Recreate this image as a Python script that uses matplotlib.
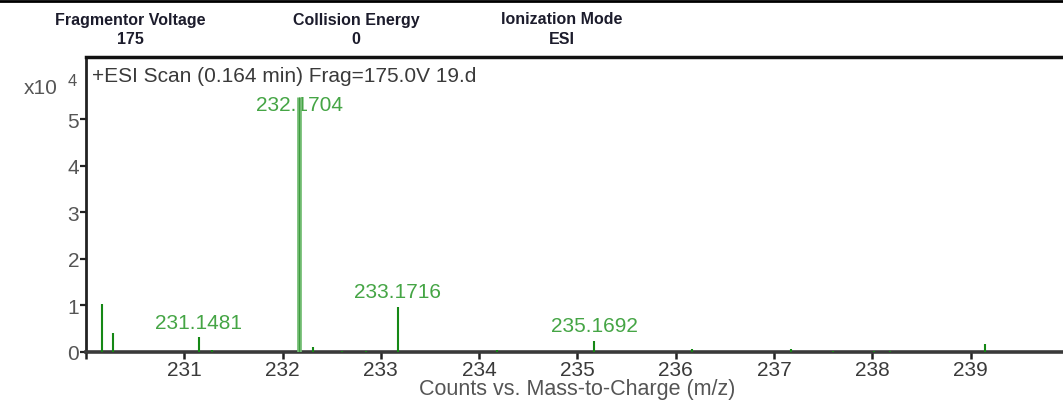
import matplotlib
matplotlib.use("Agg")
import matplotlib.pyplot as plt
from matplotlib.lines import Line2D
from matplotlib.ticker import FixedLocator, FuncFormatter

plt.rcParams['font.family'] = ['Liberation Sans', 'DejaVu Sans']

# Acquisition parameters shown in the header row
header_names = ["Fragmentor Voltage", "Collision Energy", "Ionization Mode"]
header_values = ["175", "0", "ESI"]

scan_title = "+ESI Scan (0.164 min) Frag=175.0V 19.d"
x_label = "Counts vs. Mass-to-Charge (m/z)"

# Centroided spectrum: m/z and counts
mz = [230.163, 230.270, 231.1481, 231.280, 232.1704, 232.310, 232.600,
      232.850, 233.1716, 234.180, 235.1692, 236.170, 237.170, 237.600,
      238.020, 238.180, 239.150]
counts = [10400, 4000, 3200, 500, 54900, 1000, 200,
          200, 9700, 500, 2400, 700, 700, 200,
          200, 200, 1700]

# Peaks carrying an m/z annotation
labeled_mz = [231.1481, 232.1704, 233.1716, 235.1692]

x_ticks = [230, 231, 232, 233, 234, 235, 236, 237, 238, 239]
y_ticks = [0, 1, 2, 3, 4, 5]
y_scale = 1e4

W, H = 1063, 402
fig = plt.figure(figsize=(W / 100, H / 100), dpi=100)

# axes box in pixels: left 86, top 58, bottom 353, right edge of figure
ax = fig.add_axes([86 / W, 1 - 353 / H, 1 - 86 / W, (353 - 58) / H])
ax.set_xlim(230.0, 239.94)
ax.set_ylim(0, 6.34e4)

dark_green = '#158815'
light_green = '#72bc72'
label_green = '#45a545'

peak_max = max(counts)
for m, c in zip(mz, counts):
    if c == peak_max:
        ax.vlines(m, 0, c, colors=light_green, linewidth=3.4, zorder=3)
        ax.vlines(m, 0, c, colors='#3f9c3f', linewidth=0.8, zorder=3)
    else:
        ax.vlines(m, 0, c, colors=dark_green, linewidth=1.5, zorder=3)

label_cap = 5.0e4
for m in labeled_mz:
    c = counts[mz.index(m)]
    ax.annotate(f"{m:.4f}", xy=(m, min(c, label_cap)), xytext=(0, 4),
                textcoords='offset points', ha='center', va='bottom',
                fontsize=15, color=label_green, zorder=2)

ax.text(6 / 977, 1 - 9 / 295, scan_title, transform=ax.transAxes,
        ha='left', va='top', fontsize=15, color='#3a3a3a')

# axis styling
ax.spines['right'].set_visible(False)
ax.spines['top'].set_linewidth(2.5)
ax.spines['top'].set_color('#111111')
ax.spines['left'].set_linewidth(2.0)
ax.spines['left'].set_color('#222222')
ax.spines['bottom'].set_linewidth(2.6)
ax.spines['bottom'].set_color('#3a3a3a')

ax.xaxis.set_major_locator(FixedLocator(x_ticks))
ax.xaxis.set_major_formatter(FuncFormatter(lambda v, p: "" if v == x_ticks[0] else f"{v:.0f}"))
ax.yaxis.set_major_locator(FixedLocator([t * y_scale for t in y_ticks]))
ax.yaxis.set_major_formatter(FuncFormatter(lambda v, p: f"{v / y_scale:.0f}"))
ax.tick_params(axis='x', direction='out', length=5, width=1.8, color='#222222',
               labelsize=15, labelcolor='#3a3a3a', pad=1)
ax.tick_params(axis='y', direction='out', length=4, width=1.6, color='#222222',
               labelsize=15, labelcolor='#555555', pad=1)

# axis title placed below the tick labels
fig.text((86 + 1063) / 2 / W + 3 / W, 1 - 390 / H, x_label, ha='center', va='center',
         fontsize=15.5, color='#555555')

# exponent marker for the count axis
fig.text(24 / W, 1 - 88 / H, "x10", ha='left', va='center', fontsize=15, color='#555555')
fig.text(68 / W, 1 - 81 / H, "4", ha='left', va='center', fontsize=12, color='#555555')

# header row
header_x = [130, 356, 562]
for name, val, hx in zip(header_names, header_values, header_x):
    fig.text(hx / W, 1 - 20 / H, name, ha='center', va='center',
             fontsize=11.5, fontweight='bold', color='#1c1c2c')
    fig.text(hx / W, 1 - 40 / H, val, ha='center', va='center',
             fontsize=11.5, fontweight='bold', color='#1c1c2c')

# rule along the top edge
fig.add_artist(Line2D([0, 1], [1 - 2 / H, 1 - 2 / H], transform=fig.transFigure,
                      color='black', linewidth=2.0))

fig.savefig("out.png", dpi=100)
